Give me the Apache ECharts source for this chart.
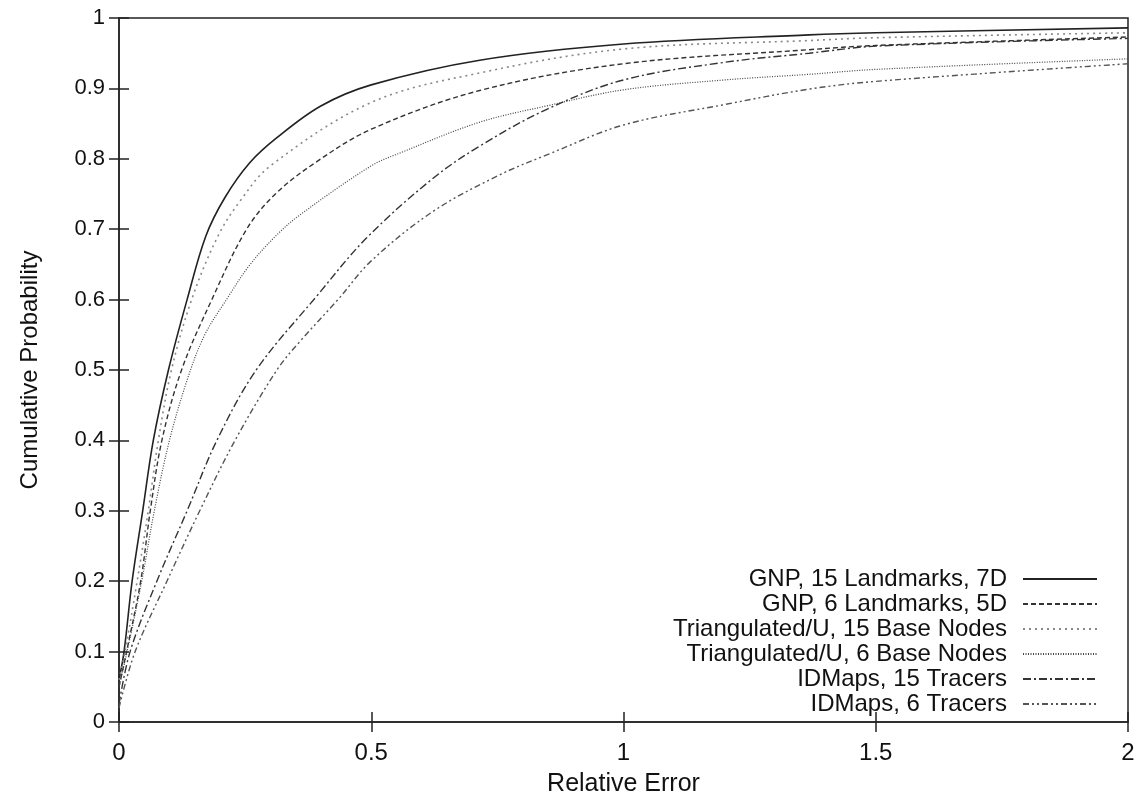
<!DOCTYPE html>
<html>
<head>
<meta charset="utf-8">
<script src="https://cdn.jsdelivr.net/npm/echarts@6/dist/echarts.min.js"></script>
<style>
  html, body { margin: 0; padding: 0; background: #fff; }
  #chart { width: 1142px; height: 802px; }
</style>
</head>
<body>
<div id="chart"></div>
<script>
// [relative error, cumulative probability]
const gnp15 = [
  [0, 0.06], [0.01, 0.1], [0.026, 0.2], [0.047, 0.3], [0.068, 0.4], [0.098, 0.5],
  [0.135, 0.6], [0.172, 0.69], [0.21, 0.745], [0.26, 0.795], [0.313, 0.83], [0.4, 0.875],
  [0.5, 0.905], [0.715, 0.94], [1, 0.963], [1.368, 0.976], [1.5, 0.979], [2, 0.986]
];
const gnp6 = [
  [0, 0.05], [0.015, 0.1], [0.043, 0.2], [0.062, 0.3], [0.085, 0.4], [0.124, 0.5],
  [0.184, 0.6], [0.253, 0.7], [0.31, 0.75], [0.39, 0.795], [0.5, 0.842], [0.715, 0.897],
  [1, 0.935], [1.368, 0.955], [1.5, 0.961], [2, 0.973]
];
const tri15 = [
  [0, 0.06], [0.012, 0.1], [0.036, 0.2], [0.058, 0.3], [0.078, 0.4], [0.104, 0.5],
  [0.144, 0.6], [0.196, 0.69], [0.24, 0.74], [0.3, 0.79], [0.5, 0.88], [0.715, 0.922],
  [1, 0.956], [1.368, 0.968], [1.5, 0.972], [2, 0.979]
];
const tri6 = [
  [0, 0.05], [0.016, 0.1], [0.045, 0.2], [0.07, 0.3], [0.1, 0.4], [0.137, 0.49], [0.17, 0.55],
  [0.213, 0.6], [0.26, 0.65], [0.313, 0.692], [0.358, 0.72], [0.5, 0.79], [0.556, 0.808],
  [0.715, 0.852], [0.847, 0.875], [1, 0.898], [1.2, 0.912], [1.368, 0.92], [1.5, 0.927], [2, 0.942]
];
const idmaps15 = [
  [0, 0.025], [0.022, 0.1], [0.075, 0.2], [0.135, 0.3], [0.194, 0.4],
  [0.272, 0.5], [0.392, 0.605], [0.49, 0.687], [0.622, 0.772],
  [0.715, 0.818], [0.847, 0.87], [1, 0.912], [1.2, 0.937], [1.368, 0.95], [1.5, 0.96], [2, 0.971]
];
const idmaps6 = [
  [0, 0.02], [0.032, 0.1], [0.095, 0.2], [0.16, 0.3], [0.23, 0.4],
  [0.313, 0.5], [0.358, 0.54], [0.434, 0.6], [0.5, 0.655], [0.622, 0.725],
  [0.754, 0.777], [0.853, 0.807], [1, 0.848], [1.2, 0.877], [1.368, 0.899], [1.5, 0.91], [2, 0.935]
];

const seriesNames = [
  'GNP, 15 Landmarks, 7D',
  'GNP, 6 Landmarks, 5D',
  'Triangulated/U, 15 Base Nodes',
  'Triangulated/U, 6 Base Nodes',
  'IDMaps, 15 Tracers',
  'IDMaps, 6 Tracers'
];
const seriesData = [gnp15, gnp6, tri15, tri6, idmaps15, idmaps6];
const lineStyles = [
  { color: '#222', width: 1.6, type: 'solid' },
  { color: '#333', width: 1.4, type: [5, 3] },
  { color: '#888', width: 1.6, type: [2, 4] },
  { color: '#444', width: 1.2, type: [1, 1.5] },
  { color: '#333', width: 1.4, type: [8, 3, 2, 3] },
  { color: '#555', width: 1.4, type: [6, 3, 2, 3, 2, 3] }
];

const font = 'Liberation Sans, Arial, sans-serif';
const chart = echarts.init(document.getElementById('chart'));

const hiddenAxis = {
  min: 0,
  axisLine: { show: false },
  axisTick: { show: true, inside: true, length: 10, lineStyle: { color: '#222', width: 1.5 } },
  axisLabel: { show: false },
  splitLine: { show: false }
};

chart.setOption({
  animation: false,
  backgroundColor: '#fff',
  grid: {
    left: 119, right: 14, top: 18, bottom: 74,
    show: true, borderColor: '#222', borderWidth: 1.5
  },
  legend: {
    orient: 'vertical',
    align: 'right',
    right: 39,
    top: 562,
    itemWidth: 74,
    itemHeight: 14,
    itemGap: 1,
    itemStyle: { opacity: 0 },
    textStyle: { fontFamily: font, fontSize: 24, color: '#111', lineHeight: 24, padding: [0, 11, 0, 0] },
    data: seriesNames
  },
  xAxis: [{
    type: 'value', min: 0, max: 2, interval: 0.5,
    name: 'Relative Error', nameLocation: 'middle', nameGap: 50,
    nameTextStyle: { fontFamily: font, fontSize: 25, color: '#111' },
    axisLine: { show: true, lineStyle: { color: '#222', width: 1.5 } },
    axisTick: { inside: true, length: 10, lineStyle: { color: '#222', width: 1.5 } },
    axisLabel: { fontFamily: font, fontSize: 24, color: '#111', margin: 19 },
    splitLine: { show: false }
  }, Object.assign({ type: 'value', position: 'top', max: 2, interval: 0.5 }, hiddenAxis)],
  yAxis: [{
    type: 'value', min: 0, max: 1, interval: 0.1,
    name: 'Cumulative Probability', nameLocation: 'middle', nameGap: 77, nameRotate: 90,
    nameTextStyle: { fontFamily: font, fontSize: 24, color: '#111' },
    axisLine: { show: true, lineStyle: { color: '#222', width: 1.5 } },
    axisTick: { inside: true, length: 10, lineStyle: { color: '#222', width: 1.5 } },
    axisLabel: { fontFamily: font, fontSize: 22, color: '#111', margin: 14 },
    splitLine: { show: false }
  }, Object.assign({ type: 'value', position: 'right', max: 1, interval: 0.1 }, hiddenAxis)],
  series: seriesData.map((d, i) => ({
    name: seriesNames[i],
    type: 'line',
    data: d,
    symbol: 'none',
    smooth: 0.35,
    lineStyle: lineStyles[i],
    itemStyle: { color: lineStyles[i].color }
  }))
});
</script>
</body>
</html>
